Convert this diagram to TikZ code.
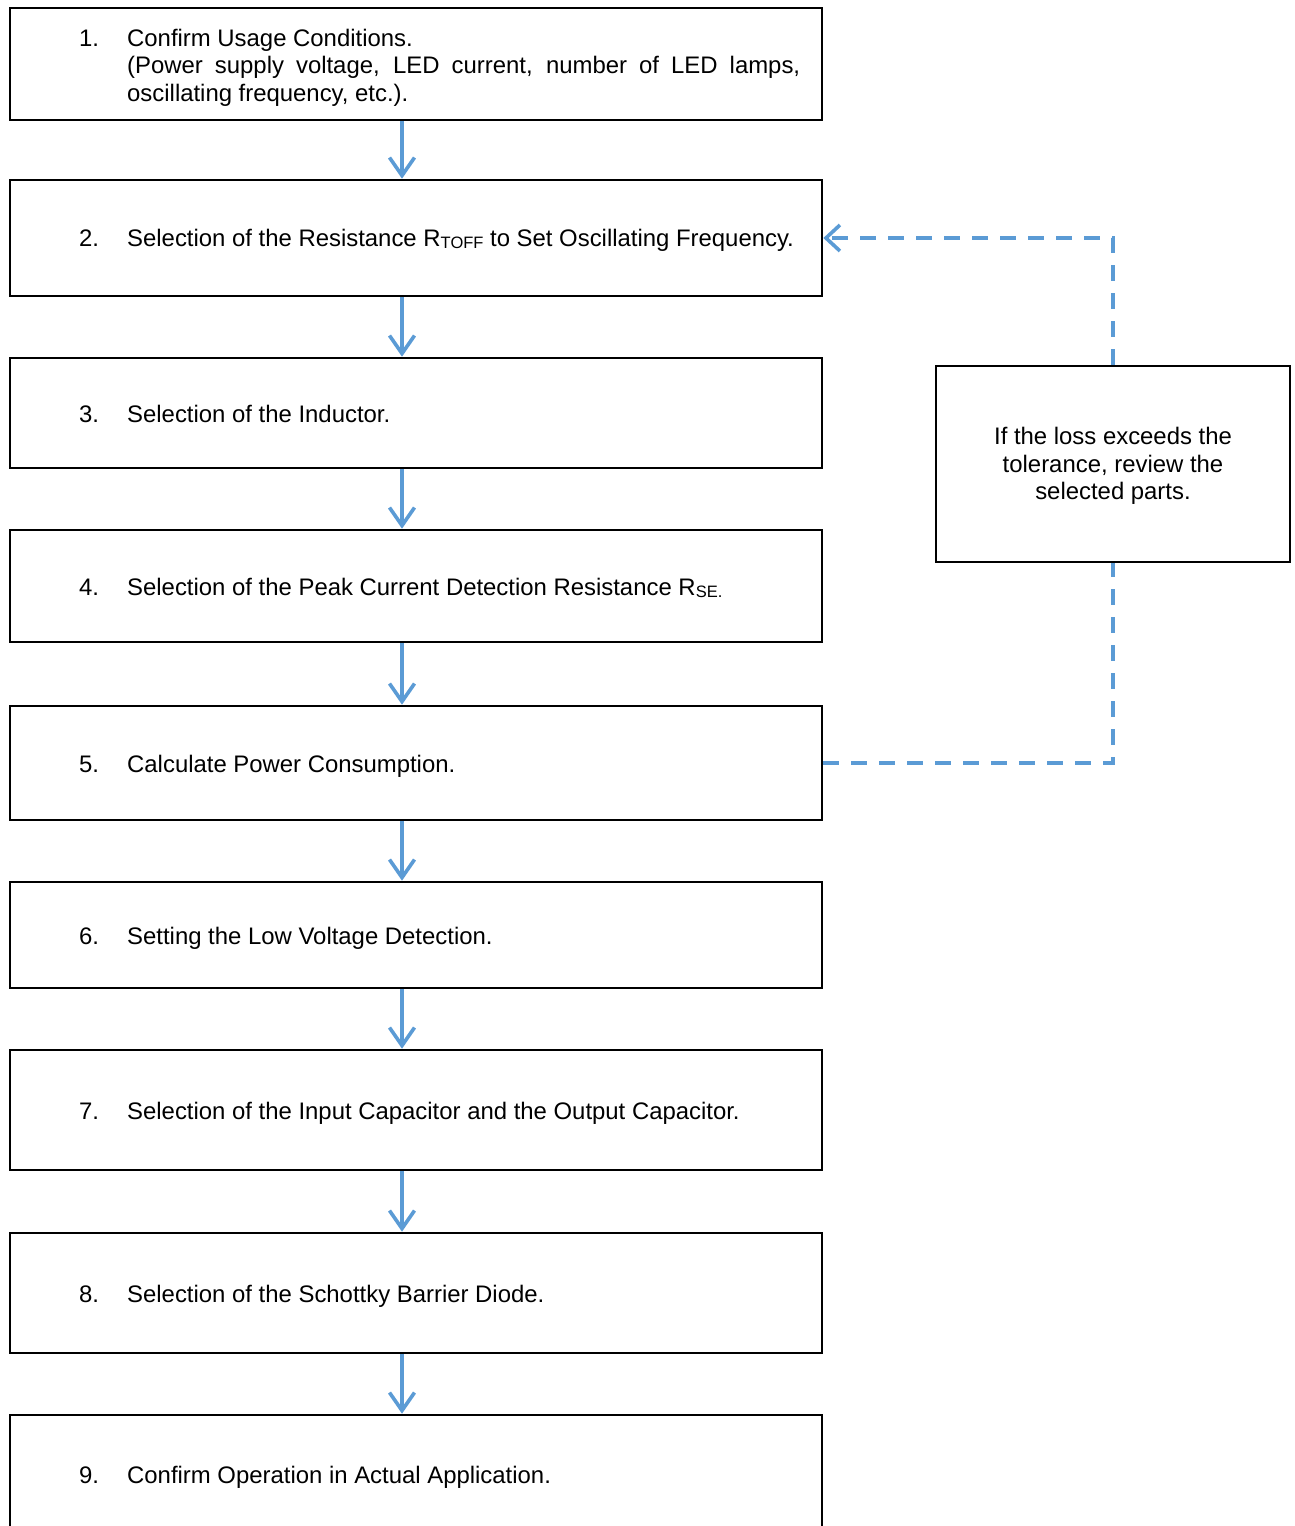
\documentclass[tikz,border=0pt]{standalone}
\usepackage{fontspec}
\setmainfont{Liberation Sans}
\usetikzlibrary{arrows.meta}
\definecolor{flowblue}{HTML}{5B9BD5}
\setlength\parindent{0pt}
\hyphenpenalty=10000
\exhyphenpenalty=10000
\tolerance=10000
\newcommand\lowsub[1]{\raisebox{-1.8pt}{\fontsize{16.5}{16.5}\selectfont #1}}
\tikzset{
  x=1pt, y=-1pt,
  stepbox/.style={draw=black, line width=2.6pt, minimum width=812pt, inner sep=0pt},
  sidebox/.style={draw=black, line width=2.6pt, minimum width=354pt, minimum height=196pt, inner sep=0pt},
  txt/.style={inner sep=0pt, font=\fontsize{23.9}{27.5}\selectfont, anchor=base west},
  flow/.style={draw=flowblue, line width=3.6pt, -{Straight Barb[length=18pt,width=25pt,line width=3.6pt]}},
  loop/.style={draw=flowblue, line width=3.6pt, dash pattern=on 16pt off 12pt},
}
\begin{document}
\begin{tikzpicture}
\useasboundingbox (0,0) rectangle (1295,1526);
\clip (0,0) rectangle (1295,1526);
% boxes
\node[stepbox, minimum height=112pt] (b1) at (416,64) {};
\node[stepbox, minimum height=116pt] (b2) at (416,238) {};
\node[stepbox, minimum height=110pt] (b3) at (416,413) {};
\node[stepbox, minimum height=112pt] (b4) at (416,586) {};
\node[stepbox, minimum height=114pt] (b5) at (416,763) {};
\node[stepbox, minimum height=106pt] (b6) at (416,935) {};
\node[stepbox, minimum height=120pt] (b7) at (416,1110) {};
\node[stepbox, minimum height=120pt] (b8) at (416,1293) {};
\node[stepbox, minimum height=220pt] (b9) at (416,1525) {};
\node[sidebox] (side) at (1113,464) {};
% texts
\node[txt] (n1) at (79,46) {1.};
\node[txt, anchor=north west, text width=673pt, align=justify] (t1) at (127,28.5)
  {Confirm Usage Conditions.\par (Power supply voltage, LED current, number of LED lamps, oscillating frequency, etc.).};
\node[txt] (n2) at (79,246.5) {2.};
\node[txt] (t2) at (127,246.5) {Selection of the Resistance R\lowsub{TOFF} to Set Oscillating Frequency.};
\node[txt] (n3) at (79,422.5) {3.};
\node[txt] (t3) at (127,422.5) {Selection of the Inductor.};
\node[txt] (n4) at (79,595.5) {4.};
\node[txt] (t4) at (127,595.5) {Selection of the Peak Current Detection Resistance R\lowsub{SE.}};
\node[txt] (n5) at (79,772.5) {5.};
\node[txt] (t5) at (127,772.5) {Calculate Power Consumption.};
\node[txt] (n6) at (79,944.5) {6.};
\node[txt] (t6) at (127,944.5) {Setting the Low Voltage Detection.};
\node[txt] (n7) at (79,1119.5) {7.};
\node[txt] (t7) at (127,1119.5) {Selection of the Input Capacitor and the Output Capacitor.};
\node[txt] (n8) at (79,1302.5) {8.};
\node[txt] (t8) at (127,1302.5) {Selection of the Schottky Barrier Diode.};
\node[txt] (n9) at (79,1483.5) {9.};
\node[txt] (t9) at (127,1483.5) {Confirm Operation in Actual Application.};
\node[txt, anchor=center, align=center] (ts) at (1113,466)
  {If the loss exceeds the\\tolerance, review the\\selected parts.};
% arrows
\foreach \a/\b in {b1/b2,b2/b3,b3/b4,b4/b5,b5/b6,b6/b7,b7/b8,b8/b9}{
  \draw[flow] ([xshift=-14pt]\a.south) -- ([xshift=-14pt]\b.north);
}
% feedback loop
\draw[loop] (b5.east) -- (b5.east -| side.south) -- (side.south);
\draw[loop, -{Straight Barb[length=14pt,width=26pt,line width=3.6pt]}] (side.north) |- (b2.east);
\end{tikzpicture}
\end{document}
